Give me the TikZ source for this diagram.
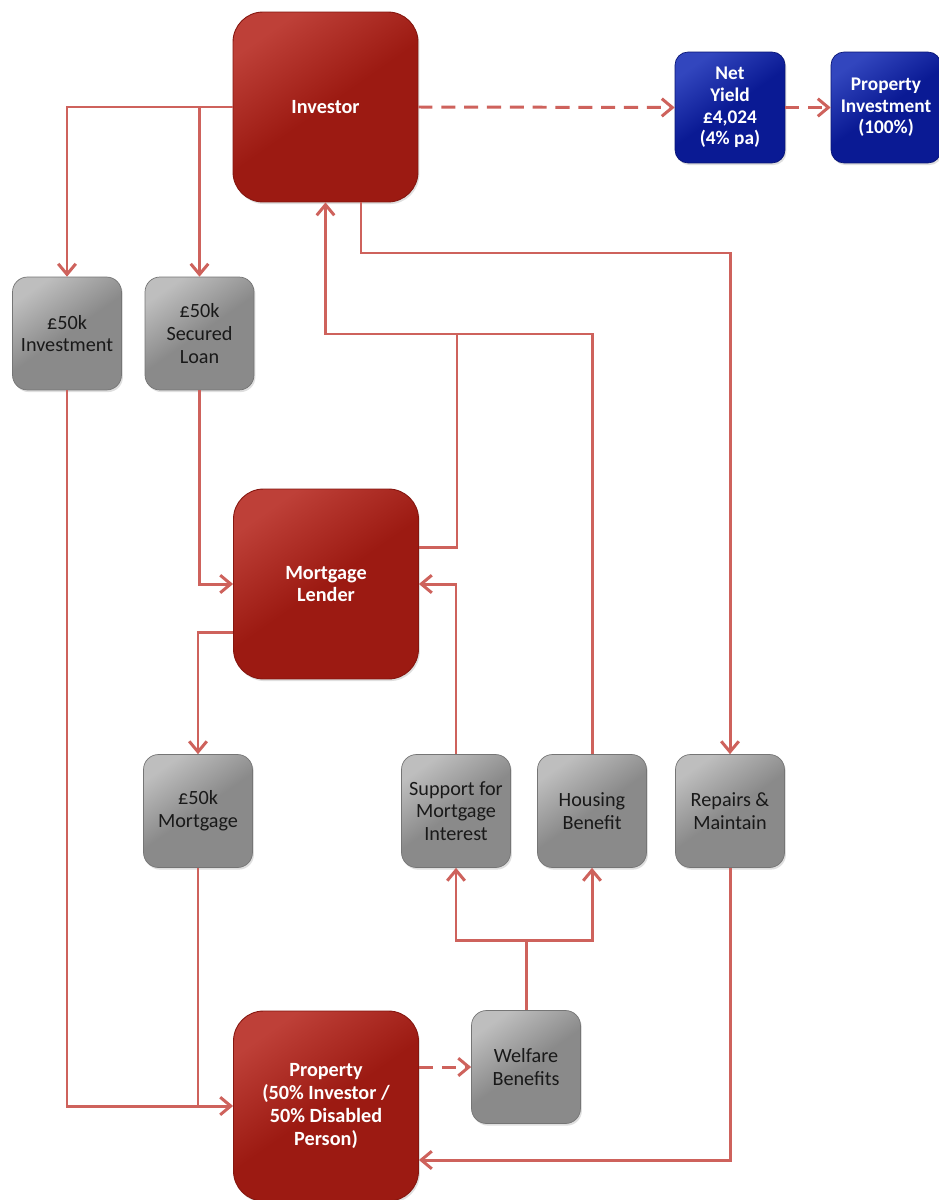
\documentclass[tikz,border=0pt]{standalone}
\usepackage{fontspec}
\setmainfont{Carlito}
\usetikzlibrary{arrows.meta,calc,shadows}
\definecolor{lnred}{RGB}{206,98,92}
\definecolor{bred}{RGB}{156,26,18}
\definecolor{bredl}{RGB}{190,64,56}
\definecolor{bgray}{RGB}{138,138,138}
\definecolor{bgrayl}{RGB}{190,190,190}
\definecolor{bblue}{RGB}{10,26,148}
\definecolor{bbluel}{RGB}{50,70,190}
\begin{document}
\begin{tikzpicture}[x=0.02cm,y=-0.02cm,
  txt/.style={align=center,font=\fontsize{11.5}{13}\selectfont,inner sep=0pt},
  shad/.style={drop shadow={opacity=0.25,shadow xshift=0.8pt,shadow yshift=-1.2pt}},
  redbox/.style={txt,shad,rounded corners=0.6cm,minimum width=3.7cm,minimum height=3.8cm,
    draw=bred!85!black,line width=0.5pt,top color=bredl,bottom color=bred,middle color=bred,shading angle=35,text=white,font=\fontsize{11.5}{13}\selectfont\bfseries},
  graybox/.style={txt,shad,rounded corners=0.3cm,minimum width=2.18cm,minimum height=2.26cm,
    draw=bgray!85!black,line width=0.4pt,top color=bgrayl,bottom color=bgray,middle color=bgray,shading angle=35,text=black!90},
  bluebox/.style={txt,shad,rounded corners=0.26cm,minimum width=2.2cm,minimum height=2.22cm,
    draw=bblue!80!black,line width=0.4pt,top color=bbluel,bottom color=bblue,middle color=bblue,shading angle=35,text=white,font=\fontsize{11}{12.3}\selectfont\bfseries},
  ln/.style={draw=lnred,line width=1.7pt},
  arr/.style={ln,-{Straight Barb[length=6pt,width=10pt]}},
  darr/.style={arr,dash pattern=on 8pt off 5pt}]
\useasboundingbox (0,0) rectangle (938,1200);
\fill[white] (0,0) rectangle (938,1200);

% nodes
\node[redbox] (inv) at (325.5,107) {Investor};
\node[bluebox] (ny) at (730,107.5) {Net\\Yield\\£4,024\\(4\% pa)};
\node[bluebox] (pi) at (886,107.5) {Property\\Investment\\(100\%)};
\node[graybox] (inv50) at (67,333.5) {£50k\\Investment};
\node[graybox] (loan) at (199.5,333.5) {£50k\\Secured\\Loan};
\node[redbox] (lend) at (326,584) {Mortgage\\Lender};
\node[graybox] (mort) at (198,811) {£50k\\Mortgage};
\node[graybox] (smi) at (456,811) {Support for\\Mortgage\\Interest};
\node[graybox] (hb) at (592,811) {Housing\\Benefit};
\node[graybox] (rep) at (730,811) {Repairs \&\\Maintain};
\node[graybox] (wel) at (526,1067) {Welfare\\Benefits};
\node[redbox] (prop) at (326,1106) {Property\\(50\% Investor /\\50\% Disabled\\Person)};

% bend coordinates
\coordinate (j1) at (361,253);
\coordinate (j2) at (457,334);
\coordinate (k2) at (457,547);
\coordinate (k3) at (198,632);
\coordinate (j3) at (526,940);
\coordinate (k4) at (730,1160);

% connectors
\draw[arr] (inv.west) -| (inv50.north);
\draw[arr] (inv.west -| loan.north) -- (loan.north);
\draw[darr] (inv.east) -- (ny.west);
\draw[darr] (ny.east) -- (pi.west);
\draw[arr] (inv.south -| j1) -- (j1) -| (rep.north);
\draw[arr] (lend.east |- k2) -- (k2) -- (j2) -| (inv.south);
\draw[ln] (hb.north) |- (j2);
\draw[arr] (smi.north) |- (lend.east);
\draw[arr] (loan.south) |- (lend.west);
\draw[arr] (lend.west |- k3) -| (mort.north);
\draw[arr] (inv50.south) |- (prop.west);
\draw[ln] (mort.south) -- (mort.south |- prop.west);
\draw[darr] (prop.east |- wel.west) -- (wel.west);
\draw[ln] (wel.north) -- (j3);
\draw[arr] (j3) -| (smi.south);
\draw[arr] (j3) -| (hb.south);
\draw[arr] (rep.south) -- (k4) -- (prop.east |- k4);
\end{tikzpicture}
\end{document}
